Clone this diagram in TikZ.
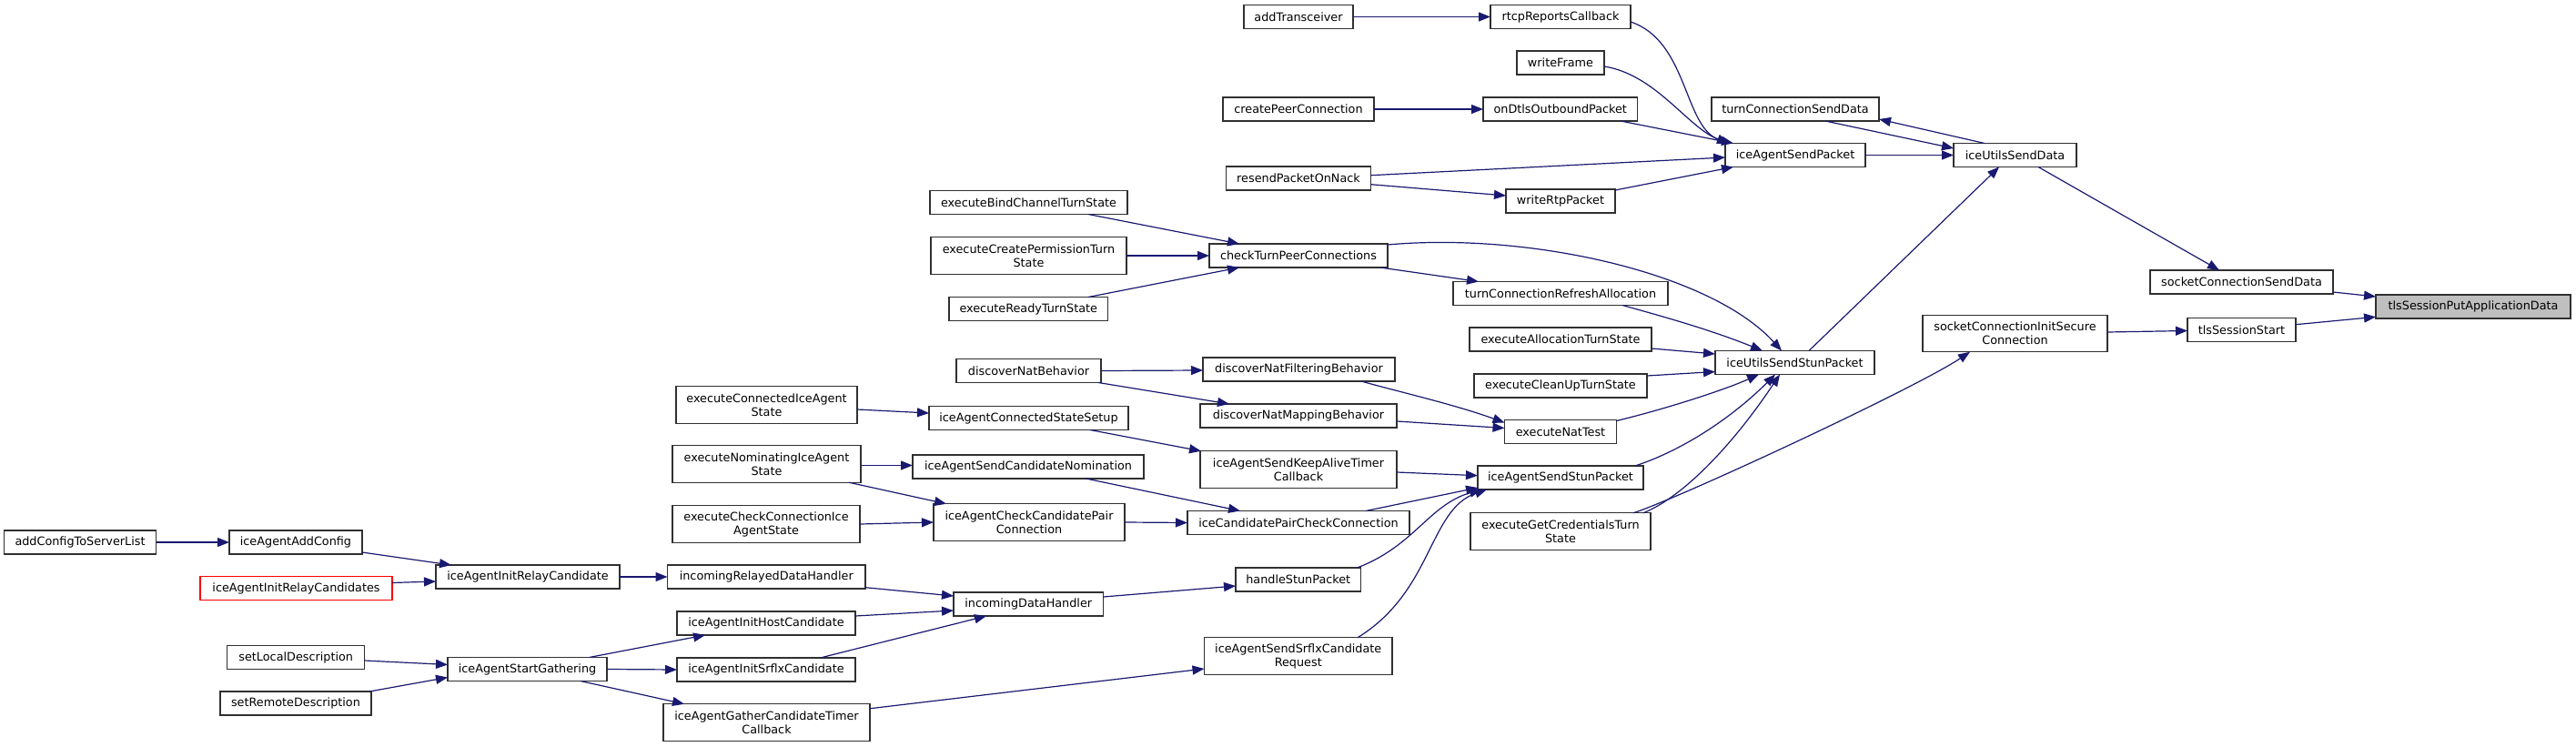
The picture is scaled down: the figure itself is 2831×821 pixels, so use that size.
\documentclass[tikz,border=0pt]{standalone}
\usepackage{fontspec}
\setmainfont{DejaVu Sans}
\usetikzlibrary{arrows.meta,calc}
\definecolor{edgeblue}{HTML}{191970}
\definecolor{boxline}{HTML}{303030}
\definecolor{focusfill}{HTML}{BFBFBF}
\newcommand{\fnfont}{\fontsize{12.8pt}{15pt}\selectfont}
\tikzset{
  fn/.style={draw=boxline, fill=white, line width=1.3pt, inner sep=0pt, outer sep=0pt,
    font=\fnfont, align=center, minimum height=26pt},
  fntwo/.style={fn, minimum height=40.5pt},
  fnred/.style={fn, draw=red},
  fnfocus/.style={fn, fill=focusfill},
  edge/.style={draw=edgeblue, line width=1.2pt, -{Triangle[length=13pt,width=10pt]}, fill=none},
}
\begin{document}
\begin{tikzpicture}[x=1pt,y=-1pt]
\useasboundingbox (0,0) rectangle (2831,821);
% column 1-3
\node[fn, minimum width=167pt] (addcfg) at (88,596) {addConfigToServerList};
\node[fn, minimum width=146pt] (agaddcfg) at (325,596) {iceAgentAddConfig};
\node[fnred, minimum width=211pt] (relaycands) at (325.5,646.5) {iceAgentInitRelayCandidates};
\node[fn, minimum width=151pt] (setlocal) at (325.25,722.5) {setLocalDescription};
\node[fn, minimum width=166pt] (setremote) at (325,773) {setRemoteDescription};
\node[fn, minimum width=202pt] (relaycand) at (580,634) {iceAgentInitRelayCandidate};
\node[fn, minimum width=175pt] (startgath) at (579.5,735.5) {iceAgentStartGathering};
% column 4
\node[fntwo, minimum width=199pt] (execconn) at (842.5,445) {executeConnectedIceAgent\\State};
\node[fntwo, minimum width=207pt] (execnom) at (842.5,510) {executeNominatingIceAgent\\State};
\node[fntwo, minimum width=206pt] (execcheck) at (842,576) {executeCheckConnectionIce\\AgentState};
\node[fn, minimum width=217.5pt] (increlay) at (842.25,634) {incomingRelayedDataHandler};
\node[fn, minimum width=196pt] (inithost) at (842,685) {iceAgentInitHostCandidate};
\node[fn, minimum width=196pt] (initsrflx) at (842,736) {iceAgentInitSrflxCandidate};
\node[fntwo, minimum width=227pt] (gathertimer) at (842.5,794) {iceAgentGatherCandidateTimer\\Callback};
% column 5
\node[fn, minimum width=217pt] (bindchan) at (1130.5,222.5) {executeBindChannelTurnState};
\node[fntwo, minimum width=215pt] (createperm) at (1130.5,281) {executeCreatePermissionTurn\\State};
\node[fn, minimum width=174.5pt] (readyturn) at (1130.25,339.5) {executeReadyTurnState};
\node[fn, minimum width=159pt] (discnat) at (1130.5,407.5) {discoverNatBehavior};
\node[fn, minimum width=219pt] (connsetup) at (1130.5,459.5) {iceAgentConnectedStateSetup};
\node[fn, minimum width=254pt] (sendnom) at (1130,513) {iceAgentSendCandidateNomination};
\node[fntwo, minimum width=210pt] (checkpair) at (1131,574) {iceAgentCheckCandidatePair\\Connection};
\node[fn, minimum width=164.5pt] (incdata) at (1130.25,664) {incomingDataHandler};
% column 6
\node[fn, minimum width=120pt] (addtrans) at (1427,18.5) {addTransceiver};
\node[fn, minimum width=166pt] (createpc) at (1427,120) {createPeerConnection};
\node[fn, minimum width=159pt] (resend) at (1427,196) {resendPacketOnNack};
\node[fn, minimum width=196pt] (checkturn) at (1427,281) {checkTurnPeerConnections};
\node[fn, minimum width=211pt] (discfilt) at (1427.5,406) {discoverNatFilteringBehavior};
\node[fn, minimum width=216pt] (discmap) at (1427,457) {discoverNatMappingBehavior};
\node[fntwo, minimum width=216pt] (keepalive) at (1427,516) {iceAgentSendKeepAliveTimer\\Callback};
\node[fn, minimum width=244pt] (pairconn) at (1427,574.5) {iceCandidatePairCheckConnection};
\node[fn, minimum width=137.5pt] (handlestun) at (1426.75,637) {handleStunPacket};
\node[fntwo, minimum width=206.5pt] (srflxreq) at (1426.75,721) {iceAgentSendSrflxCandidate\\Request};
% column 7
\node[fn, minimum width=154pt] (rtcp) at (1715,18.5) {rtcpReportsCallback};
\node[fn, minimum width=96pt] (writeframe) at (1715,69) {writeFrame};
\node[fn, minimum width=169.5pt] (ondtls) at (1714.75,120) {onDtlsOutboundPacket};
\node[fn, minimum width=120pt] (writertp) at (1715,221) {writeRtpPacket};
\node[fn, minimum width=236pt] (refreshalloc) at (1715,322.5) {turnConnectionRefreshAllocation};
\node[fn, minimum width=200pt] (execalloc) at (1715,373) {executeAllocationTurnState};
\node[fn, minimum width=190pt] (cleanup) at (1715,424) {executeCleanUpTurnState};
\node[fn, minimum width=123pt] (nattest) at (1715,474.5) {executeNatTest};
\node[fn, minimum width=182pt] (agstun) at (1715,525) {iceAgentSendStunPacket};
\node[fntwo, minimum width=198pt] (getcred) at (1715,584) {executeGetCredentialsTurn\\State};
% column 8-11
\node[fn, minimum width=184pt] (turnsend) at (1973,120) {turnConnectionSendData};
\node[fn, minimum width=154pt] (agpkt) at (1973,170.5) {iceAgentSendPacket};
\node[fn, minimum width=175pt] (utilstun) at (1972.5,398.5) {iceUtilsSendStunPacket};
\node[fn, minimum width=135pt] (utilsdata) at (2214.5,170.5) {iceUtilsSendData};
\node[fntwo, minimum width=203pt] (sockinit) at (2214.5,366.5) {socketConnectionInitSecure\\Connection};
\node[fn, minimum width=201pt] (socksend) at (2463.5,310) {socketConnectionSendData};
\node[fn, minimum width=119pt] (tlsstart) at (2463.5,362.5) {tlsSessionStart};
\node[fnfocus, minimum width=214pt] (tlsput) at (2718,337) {tlsSessionPutApplicationData};

% edges
\draw[edge] (addtrans.east) -- (rtcp.west);
\draw[edge] ($(rtcp.east)+(0,5.5)$) .. controls +(63,21) and +(-50,-18) .. ($(agpkt.north west)+(4.5,0)$);
\draw[edge] ($(writeframe.east)+(0,4)$) .. controls +(57,9) and +(-45,-17) .. ($(agpkt.north west)+(4,0)$);
\draw[edge] (createpc.east) -- (ondtls.west);
\draw[edge] ($(ondtls.south east)+(-18.5,0)$) -- ($(agpkt.north west)+(9,0)$);
\draw[edge] ($(resend.east)+(0,-3.3)$) -- ($(agpkt.west)+(0,2.5)$);
\draw[edge] ($(resend.east)+(0,6.7)$) -- ($(writertp.west)+(0,-6)$);
\draw[edge] ($(writertp.north east)+(0,1)$) -- ($(agpkt.south west)+(9,0)$);
\draw[edge] (agpkt.east) -- (utilsdata.west);
\draw[edge] ($(turnsend.south east)+(-59,0)$) -- ($(utilsdata.west)+(0,-7.5)$);
\draw[edge] ($(utilsdata.north west)+(34,0)$) -- ($(turnsend.east)+(0,11)$);
\draw[edge] ($(utilsdata.south west)+(93,0)$) -- ($(socksend.north west)+(76,0)$);
\draw[edge] ($(socksend.east)+(0,11)$) -- ($(tlsput.west)+(0,-11)$);
\draw[edge] ($(tlsstart.east)+(0,-5.8)$) -- ($(tlsput.west)+(0,11.3)$);
\draw[edge] ($(sockinit.east)+(0,-1.5)$) -- ($(tlsstart.west)+(0,1)$);
\draw[edge] ($(getcred.north west)+(179,0)$) .. controls +(50,-16) and +(-60,40) .. ($(sockinit.south west)+(52,0)$);
\draw[edge] ($(utilstun.north west)+(103,0)$) -- ($(utilsdata.south west)+(50,0)$);
\draw[edge] ($(bindchan.south west)+(174,0)$) -- ($(checkturn.north west)+(33,0)$);
\draw[edge] (createperm.east) -- (checkturn.west);
\draw[edge] ($(readyturn.north west)+(153,0)$) -- ($(checkturn.south west)+(33,0)$);
\draw[edge] ($(checkturn.south east)+(-8,0)$) -- ($(refreshalloc.north west)+(28,0)$);
\draw[edge] ($(checkturn.north east)+(0,1)$) .. controls +(155,-14) and +(-78,-86) .. ($(utilstun.north west)+(73,0)$);
\draw[edge] ($(refreshalloc.south east)+(-50,0)$) .. controls +(47,13) and +(-57,-23) .. ($(utilstun.north west)+(52,0)$);
\draw[edge] ($(execalloc.east)+(0,10)$) -- ($(utilstun.north west)+(0,3.5)$);
\draw[edge] ($(cleanup.north east)+(0,2)$) -- ($(utilstun.south west)+(0,-3)$);
\draw[edge] (discnat.east) -- ($(discfilt.west)+(0,1)$);
\draw[edge] ($(discnat.south east)+(-3,0)$) -- ($(discmap.north west)+(32,0)$);
\draw[edge] ($(discfilt.south west)+(174,0)$) .. controls +(35,10) and +(-55,-20) .. ($(nattest.north west)+(0,3)$);
\draw[edge] ($(discmap.east)+(0,6)$) -- ($(nattest.west)+(0,-4)$);
\draw[edge] ($(nattest.north east)+(0,1)$) .. controls +(50,-12) and +(-40,18) .. ($(utilstun.south west)+(48,0)$);
\draw[edge] ($(execconn.east)+(0,5)$) -- ($(connsetup.west)+(0,-5.5)$);
\draw[edge] ($(connsetup.south west)+(177,0)$) -- ($(keepalive.north west)+(1,0)$);
\draw[edge] ($(execnom.east)+(0,1.5)$) -- ($(sendnom.west)+(0,-1.5)$);
\draw[edge] ($(execnom.south east)+(-13,0)$) -- ($(checkpair.north west)+(14,0)$);
\draw[edge] ($(sendnom.south west)+(190.5,0)$) -- ($(pairconn.north west)+(58,0)$);
\draw[edge] (execcheck.east) -- (checkpair.west);
\draw[edge] (checkpair.east) -- (pairconn.west);
\draw[edge] ($(keepalive.east)+(0,3)$) -- ($(agstun.west)+(0,-2.3)$);
\draw[edge] ($(pairconn.north east)+(-48,0)$) -- ($(agstun.south west)+(0,-2)$);
\draw[edge] ($(handlestun.north east)+(-4,0)$) .. controls +(63,-24) and +(-58,17) .. ($(agstun.south west)+(4,0)$);
\draw[edge] ($(srflxreq.north east)+(-38,0)$) .. controls +(83,-51) and +(-64,22) .. ($(agstun.south west)+(10,0)$);
\draw[edge] ($(agstun.north east)+(-9,0)$) .. controls +(55,-18) and +(-45,45) .. ($(utilstun.south west)+(66,0)$);
\draw[edge] ($(getcred.north east)+(-8,0)$) .. controls +(45,-18) and +(-50,75) .. ($(utilstun.south west)+(71,0)$);
\draw[edge] ($(incdata.east)+(0,-8)$) -- ($(handlestun.west)+(0,7)$);
\draw[edge] ($(increlay.east)+(0,11.7)$) -- ($(incdata.west)+(0,-9)$);
\draw[edge] ($(inithost.north east)+(0,5)$) -- ($(incdata.west)+(0,7)$);
\draw[edge] ($(initsrflx.north east)+(-38.5,0)$) -- ($(incdata.south west)+(36,0)$);
\draw[edge] ($(gathertimer.north east)+(0,5)$) -- ($(srflxreq.west)+(0,14)$);
\draw[edge] (addcfg.east) -- (agaddcfg.west);
\draw[edge] ($(agaddcfg.south east)+(0,-2)$) -- ($(relaycand.north west)+(17,0)$);
\draw[edge] ($(relaycands.east)+(0,-6)$) -- ($(relaycand.west)+(0,5)$);
\draw[edge] (relaycand.east) -- (increlay.west);
\draw[edge] ($(setlocal.east)+(0,3.5)$) -- ($(startgath.west)+(0,-5)$);
\draw[edge] ($(setremote.north east)+(-2,0)$) -- ($(startgath.west)+(0,9)$);
\draw[edge] ($(startgath.north east)+(-19.5,0)$) -- ($(inithost.south west)+(31,0)$);
\draw[edge] (startgath.east) -- (initsrflx.west);
\draw[edge] ($(startgath.south east)+(-29,0)$) -- ($(gathertimer.north west)+(23,0)$);
\end{tikzpicture}
\end{document}
